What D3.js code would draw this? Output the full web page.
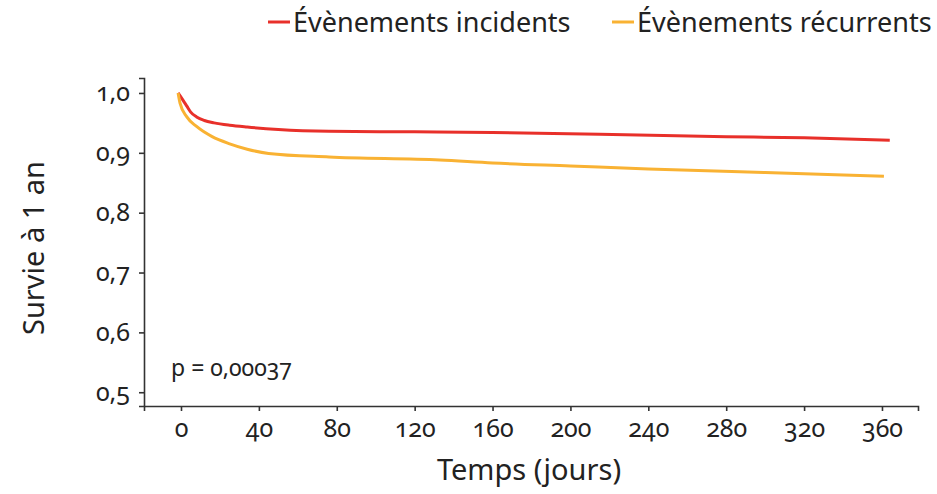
<!DOCTYPE html>
<html>
<head>
<meta charset="utf-8">
<script src="https://cdn.jsdelivr.net/npm/d3@7"></script>
<style>
  body { margin: 0; background: #fff; }
  svg text { font-family: "Noto Sans", sans-serif; fill: #222; }
  .tick text { font-feature-settings: "onum" 1; font-variant-numeric: oldstyle-nums; }
</style>
</head>
<body>
<svg id="chart" width="937" height="494"></svg>
<script>
// data
const xTicks = [0, 40, 80, 120, 160, 200, 240, 280, 320, 360];
const yTicks = [0.5, 0.6, 0.7, 0.8, 0.9, 1.0];

const incidentDays   = [-1.5, 1, 3, 5, 8, 12, 17, 25, 34, 50, 76, 120, 160, 215, 280, 320, 364];
const incidentValues = [1.0, 0.988, 0.978, 0.968, 0.960, 0.954, 0.950, 0.946, 0.943, 0.939, 0.936, 0.935, 0.934, 0.931, 0.927, 0.925, 0.921];

const recurDays   = [-1.5, -0.5, 3, 8, 16, 25, 34, 45, 76, 133, 160, 200, 240, 300, 361];
const recurValues = [1.0, 0.983, 0.960, 0.944, 0.927, 0.915, 0.906, 0.899, 0.893, 0.888, 0.883, 0.878, 0.873, 0.867, 0.861];

const series = [
    { name: "Évènements incidents", color: "#e8302a", days: incidentDays, values: incidentValues },
    { name: "Évènements récurrents", color: "#f9b233", days: recurDays, values: recurValues }
];

const svg = d3.select("#chart");

// plot box
const plotL = 144, plotR = 918, plotT = 78, plotB = 406;

const x = d3.scaleLinear().domain([-19, 378.5]).range([plotL, plotR]);
const y = d3.scaleLinear().domain([0.477, 1.025]).range([plotB, plotT]);

const fmt = d => d.toFixed(1).replace(".", ",");

// axes
const xAxis = svg.append("g")
    .attr("transform", `translate(0,${plotB})`)
    .call(d3.axisBottom(x).tickValues(xTicks).tickSize(5).tickPadding(8).tickFormat(d => d));
const yAxis = svg.append("g")
    .attr("transform", `translate(${plotL},0)`)
    .call(d3.axisLeft(y).tickValues(yTicks).tickSize(5).tickPadding(9).tickFormat(fmt));

[xAxis, yAxis].forEach(a => {
    a.selectAll("path, line").attr("stroke", "#333").attr("stroke-width", 1.6);
    a.selectAll("text").attr("font-size", 25).attr("fill", "#222");
});

// curves
const line = d3.line()
    .x(d => x(d[0]))
    .y(d => y(d[1]))
    .curve(d3.curveMonotoneX);

series.forEach(s => {
    svg.append("path")
        .datum(s.days.map((d, i) => [d, s.values[i]]))
        .attr("d", line)
        .attr("fill", "none")
        .attr("stroke", s.color)
        .attr("stroke-width", 3);
});

// p value
svg.append("text")
    .attr("x", 171)
    .attr("y", 376)
    .attr("font-size", 23)
    .style("font-feature-settings", '"onum" 1')
    .text("p = 0,00037");

// titles
svg.append("text")
    .attr("x", 529)
    .attr("y", 480)
    .attr("text-anchor", "middle")
    .attr("font-size", 29)
    .text("Temps (jours)");

svg.append("text")
    .attr("transform", "translate(44,248) rotate(-90)")
    .attr("text-anchor", "middle")
    .attr("font-size", 29)
    .text("Survie à 1 an");

// legend
const legendX = [268, 612];
series.forEach((s, i) => {
    const g = svg.append("g").attr("transform", `translate(${legendX[i]},22)`);
    g.append("line")
        .attr("x1", 0).attr("x2", 22)
        .attr("stroke", s.color).attr("stroke-width", 3);
    g.append("text")
        .attr("x", 25)
        .attr("y", 10)
        .attr("font-size", 27)
        .text(s.name);
});
</script>
</body>
</html>
